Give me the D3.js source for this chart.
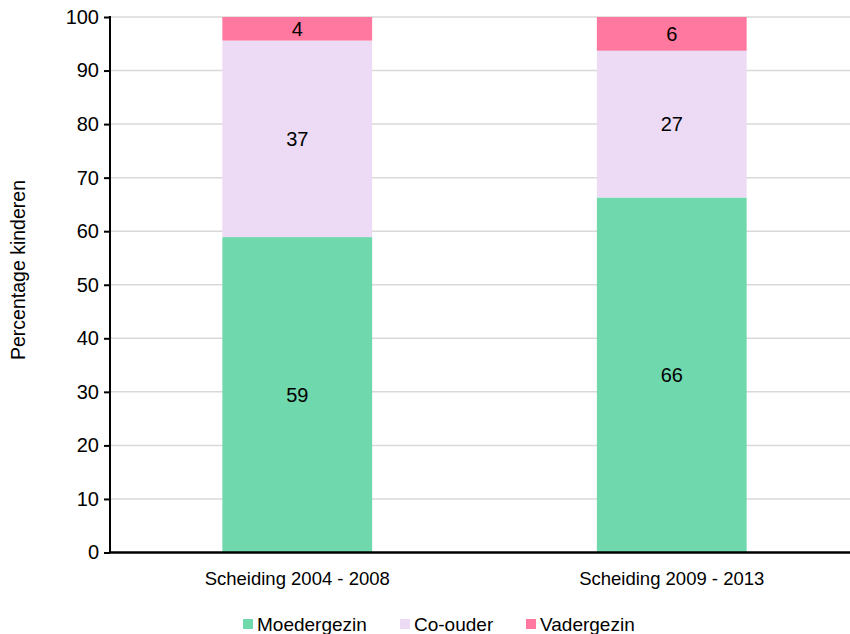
<!DOCTYPE html>
<html><head><meta charset="utf-8">
<script src="https://cdn.jsdelivr.net/npm/d3@7"></script>
<style>body{margin:0;background:#fff}svg{display:block}text{font-family:"Liberation Sans",Arial,sans-serif}</style>
</head><body>
<svg id="c" width="850" height="634"></svg>
<script>
const categories = ["Scheiding 2004 - 2008", "Scheiding 2009 - 2013"];
const seriesNames = ["Moedergezin", "Co-ouder", "Vadergezin"];
const moedergezin = [58.9, 66.3];
const coOuder = [36.7, 27.4];
const vadergezin = [4.4, 6.3];
const yTicks = [0,10,20,30,40,50,60,70,80,90,100];
const colors = ["#70d8ad", "#eddaf4", "#ff789f"];

const svg = d3.select("#c");
const m = {left:110, right:-9, top:17, bottom:82};
const W = 850, H = 634;
const x = d3.scaleBand().domain(categories).range([m.left, W - m.right]).paddingInner(0.6).paddingOuter(0.3);
const y = d3.scaleLinear().domain([0,100]).range([552.5, 17]);

// gridlines
svg.append("g").selectAll("line").data(yTicks.slice(1)).join("line")
  .attr("x1", m.left).attr("x2", W).attr("y1", d=>y(d)).attr("y2", d=>y(d))
  .attr("stroke", "#d9d9d9").attr("stroke-width", 1.5);

const rows = categories.map((c,i)=>({cat:c, Moedergezin:moedergezin[i], "Co-ouder":coOuder[i], Vadergezin:vadergezin[i]}));
const stack = d3.stack().keys(seriesNames)(rows);

const g = svg.append("g");
stack.forEach((s, si) => {
  g.selectAll(null).data(s).join("rect")
    .attr("x", d=>x(d.data.cat)).attr("width", x.bandwidth())
    .attr("y", d=>y(d[1])).attr("height", d=>y(d[0]) - y(d[1]))
    .attr("fill", colors[si]);
  g.selectAll(null).data(s).join("text")
    .attr("x", d=>x(d.data.cat) + x.bandwidth()/2)
    .attr("y", d=>(y(d[0]) + y(d[1]))/2)
    .attr("dy", "0.36em").attr("text-anchor","middle")
    .attr("font-size", 20).attr("fill","#000")
    .text(d=>Math.round(d[1]-d[0]));
});

// y axis
const ya = d3.axisLeft(y).tickValues(yTicks).tickSize(6).tickPadding(5);
const yg = svg.append("g").attr("transform", `translate(${m.left},0)`).call(ya);
yg.select(".domain").attr("stroke","#000").attr("stroke-width",2).attr("d", `M0,${y(100)-1}V${y(0)}`);
yg.selectAll(".tick line").attr("stroke","#000").attr("stroke-width",2);
yg.selectAll(".tick text").attr("font-size",20).attr("fill","#000").attr("font-family","Liberation Sans, Arial, sans-serif");

// x axis line
svg.append("line").attr("x1", m.left-1).attr("x2", W).attr("y1", y(0)).attr("y2", y(0)).attr("stroke","#000").attr("stroke-width",2.5);
svg.append("g").selectAll("text").data(categories).join("text")
  .attr("x", d=>x(d)+x.bandwidth()/2).attr("y", 585).attr("text-anchor","middle")
  .attr("font-size",18.5).attr("fill","#000").text(d=>d);

// y label
svg.append("text").attr("transform","translate(25,270) rotate(-90)").attr("text-anchor","middle")
  .attr("font-size",19.5).attr("fill","#000").text("Percentage kinderen");

// legend
const legX = [243, 400, 526];
const lg = svg.append("g");
seriesNames.forEach((n,i)=>{
  lg.append("rect").attr("x", legX[i]).attr("y", 619).attr("width", 10).attr("height", 10).attr("fill", colors[i]);
  lg.append("text").attr("x", legX[i]+14).attr("y", 631).attr("font-size", 19).attr("fill","#000").text(n);
});
</script>
</body></html>
